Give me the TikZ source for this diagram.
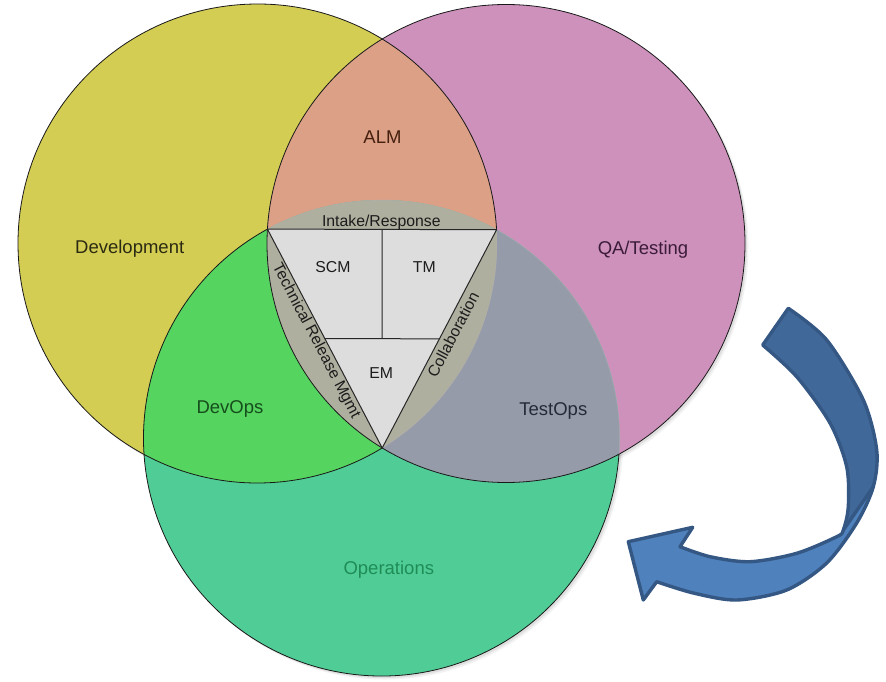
\documentclass[tikz,border=0pt]{standalone}
\usepackage{fontspec}
\setmainfont{Liberation Sans}
\usetikzlibrary{calc}

% region fills
\definecolor{devfill}{HTML}{D4CD53}
\definecolor{qafill}{HTML}{CD91BC}
\definecolor{opsfill}{HTML}{50CD96}
\definecolor{almfill}{HTML}{DCA087}
\definecolor{devopsfill}{HTML}{55D55F}
\definecolor{testopsfill}{HTML}{969BAA}
\definecolor{bandfill}{HTML}{AFAFA0}
\definecolor{corefill}{HTML}{DDDDDD}
% arrow
\definecolor{arrowfront}{HTML}{4F81BD}
\definecolor{arrowback}{HTML}{40699A}
\definecolor{arrowline}{HTML}{345784}
% label colours
\definecolor{devtext}{HTML}{2B2A12}
\definecolor{almtext}{HTML}{45200F}
\definecolor{qatext}{HTML}{3B1B38}
\definecolor{devopstext}{HTML}{164D1C}
\definecolor{testopstext}{HTML}{262A38}
\definecolor{opstext}{HTML}{1F8C56}
\definecolor{coretext}{HTML}{1C1C1C}

\tikzset{
  outline/.style={draw=black!90, line width=0.8pt},
  faintline/.style={draw=black!30, line width=0.5pt, opacity=0.5},
  biglabel/.style={font=\fontsize{18.5}{20}\selectfont, inner sep=0pt, anchor=base},
  smalllabel/.style={font=\fontsize{15.8}{18}\selectfont, inner sep=0pt, text=coretext},
  coreline/.style={draw=black!85, line width=1pt},
  arrowpart/.style={draw=arrowline, line width=3.4pt, line join=round},
}

% outline of the curved arrow (tail at the top, head pointing left)
\def\arrowshape{plot[smooth] coordinates {(788.3,308.3) (826.7,340) (863.3,400) (876.7,450) (873.3,486.7) (856.7,523) (826.7,563) (786.7,590) (736.7,600) (693.3,593) (656.7,581.7)}
  -- (643.3,600) -- (628.3,541.7) -- (692.7,527.3) -- (680,546.7)
  -- plot[smooth] coordinates {(680,546.7) (710,556.7) (750,561.7) (796.7,553.3) (836.7,536.7) (843.3,530) (848.3,506.7) (846.7,466.7) (830,423) (796.7,376.7) (762.7,345)}
  -- cycle}

\begin{document}
\begin{tikzpicture}[x=1pt,y=-1pt]
\useasboundingbox (0,0) rectangle (886,682);
\fill[white] (0,0) rectangle (886,682);

\def\rY{239.5pt}
\def\rP{239pt}
\def\rG{238pt}
\coordinate (Y) at (257.5,243.5);
\coordinate (P) at (506,243.5);
\coordinate (G) at (381.5,438);

% soft shadows below the circles
\foreach \s/\o in {3.5/0.05, 2/0.08} {
  \fill[black, opacity=\o] ([shift={(\s,\s)}]Y) circle[radius=\rY];
  \fill[black, opacity=\o] ([shift={(\s,\s)}]P) circle[radius=\rP];
  \fill[black, opacity=\o] ([shift={(\s,\s)}]G) circle[radius=\rG];
}

% single circles
\fill[devfill] (Y) circle[radius=\rY];
\fill[qafill] (P) circle[radius=\rP];
\fill[opsfill] (G) circle[radius=\rG];

% pairwise overlaps
\begin{scope}
  \clip (Y) circle[radius=\rY];
  \fill[almfill] (P) circle[radius=\rP];
\end{scope}
\begin{scope}
  \clip (Y) circle[radius=\rY];
  \fill[devopsfill] (G) circle[radius=\rG];
\end{scope}
\begin{scope}
  \clip (P) circle[radius=\rP];
  \fill[testopsfill] (G) circle[radius=\rG];
\end{scope}
% common part of all three
\begin{scope}
  \clip (Y) circle[radius=\rY];
  \clip (P) circle[radius=\rP];
  \fill[bandfill] (G) circle[radius=\rG];
\end{scope}

% circle outlines
\draw[outline] ([shift={(3.3:\rY)}]Y) arc[start angle=3.3, end angle=301.37, radius=\rY];
\draw[faintline] ([shift={(-58.63:\rY)}]Y) arc[start angle=-58.63, end angle=3.3, radius=\rY];
\draw[outline] (P) circle[radius=\rP];
\draw[outline] ([shift={(118.6:\rG)}]G) arc[start angle=118.6, end angle=356.12, radius=\rG];
\draw[faintline] ([shift={(-3.88:\rG)}]G) arc[start angle=-3.88, end angle=118.6, radius=\rG];

% central triangle
\coordinate (tl) at (267.4,229.1);
\coordinate (tr) at (496.6,229.7);
\coordinate (bt) at (382.2,448.0);
\filldraw[fill=corefill, coreline, line join=round] (tl) -- (tr) -- (bt) -- cycle;
\coordinate (ml) at ($(tl)!0.5!(bt)$);
\coordinate (mr) at ($(tr)!0.5!(bt)$);
\coordinate (mt) at ($(tl)!0.5!(tr)$);
\coordinate (mm) at ($(ml)!0.5!(mr)$);
\draw[coreline] (ml) -- (mr);
\draw[coreline] (mt) -- (mm);

% region labels
\node[biglabel, text=devtext] (dev) at (129.7,253.3) {Development};
\node[biglabel, text=almtext] (alm) at (382.5,143.3) {ALM};
\node[biglabel, text=qatext] (qa) at (643,254) {QA/Testing};
\node[biglabel, text=devopstext] (devops) at (230,413.3) {DevOps};
\node[biglabel, text=testopstext] (testops) at (553.3,415.7) {TestOps};
\node[biglabel, text=opstext] (ops) at (388.8,574.3) {Operations};

% labels of the centre
\node[smalllabel, anchor=base] (intake) at (381.3,226) {Intake/Response};
\node[smalllabel, anchor=base] (scm) at (333,272.7) {SCM};
\node[smalllabel, anchor=base] (tm) at (424.3,272.7) {TM};
\node[smalllabel, anchor=base] (em) at (381.3,378.3) {EM};
\node[smalllabel, rotate=-62.3] (trm) at (316,341) {Technical Release Mgmt};
\node[smalllabel, rotate=62.35] (collab) at (453,334.5) {Collaboration};

% curved arrow: front face, darker back face, outline
\fill[arrowfront] \arrowshape;
\begin{scope}
  \clip \arrowshape;
  \fill[arrowback] (843.3,530) -- (873.3,486.7) -- (900,448) -- (900,290) -- (740,290) -- (740,500) -- cycle;
\end{scope}
\draw[arrowpart] \arrowshape;
\draw[arrowpart] (843.3,530) -- (873.3,486.7);
\end{tikzpicture}
\end{document}
